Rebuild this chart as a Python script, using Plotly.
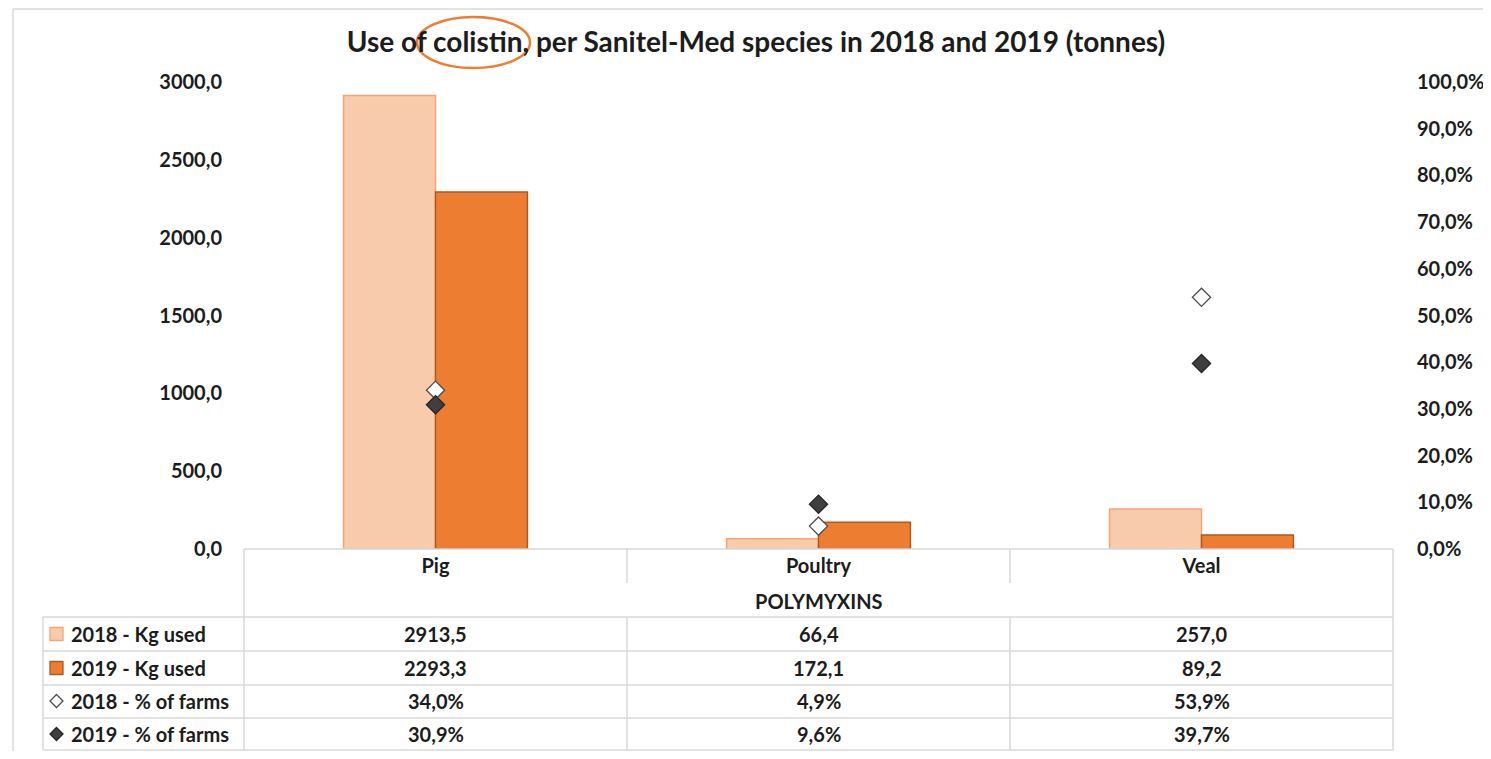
import plotly.graph_objects as go

# ---------------- data ----------------
categories = ["Pig", "Poultry", "Veal"]
group_label = "POLYMYXINS"
kg_2018 = [2913.5, 66.4, 257.0]
kg_2019 = [2293.3, 172.1, 89.2]
farms_2018 = [34.0, 4.9, 53.9]
farms_2019 = [30.9, 9.6, 39.7]
series_names = ["2018 - Kg used", "2019 - Kg used", "2018 - % of farms", "2019 - % of farms"]
left_ticks = [0, 500, 1000, 1500, 2000, 2500, 3000]
left_tick_text = ["0,0", "500,0", "1000,0", "1500,0", "2000,0", "2500,0", "3000,0"]
right_ticks = [0, 10, 20, 30, 40, 50, 60, 70, 80, 90, 100]
right_tick_text = ["0,0%", "10,0%", "20,0%", "30,0%", "40,0%", "50,0%", "60,0%",
                   "70,0%", "80,0%", "90,0%", "100,0%"]
title_text = "Use of colistin, per Sanitel-Med species in 2018 and 2019 (tonnes)"

# ---------------- style ----------------
O = 8                      # page body margin offset
W, H = 1491 - 2 * O, 759 - 2 * O
PL, PR, PT, PB = 244, 1393, 82, 549   # plot area in page pixels
L, R, T, B = PL - O, W - (PR - O), PT - O, H - (PB - O)
PW = W - L - R
PH = H - T - B
FONT = "Lato"
FS = 20
TXT = "#1c1c1c"
GRID = "#d9d9d9"
C18, C18L = "#f8cbad", "#f4a672"
C19, C19L = "#ed7d31", "#ad5a1f"
D18F, D18L = "#ffffff", "#4d4d4d"
D19F, D19L = "#3f3f3f", "#262626"


def px(xp):
    return (xp - PL) / PW


def py(yp):
    return (PB - yp) / PH


def fmt1(v):
    return f"{v:.1f}".replace(".", ",")


fig = go.Figure()
fig.add_trace(go.Bar(x=categories, y=kg_2018, name=series_names[0],
                     marker=dict(color=C18, line=dict(color=C18L, width=1.5))))
fig.add_trace(go.Bar(x=categories, y=kg_2019, name=series_names[1],
                     marker=dict(color=C19, line=dict(color=C19L, width=1.5))))
fig.add_trace(go.Scatter(x=categories, y=farms_2018, name=series_names[2], yaxis="y2",
                         mode="markers",
                         marker=dict(symbol="diamond", size=14, color=D18F,
                                     line=dict(color=D18L, width=1.3))))
fig.add_trace(go.Scatter(x=categories, y=farms_2019, name=series_names[3], yaxis="y2",
                         mode="markers",
                         marker=dict(symbol="diamond", size=14, color=D19F,
                                     line=dict(color=D19L, width=1.3))))

shapes = []
annotations = []


def hline(x0, x1, y):
    shapes.append(dict(type="line", xref="paper", yref="paper",
                       x0=px(x0), x1=px(x1), y0=py(y), y1=py(y),
                       line=dict(color=GRID, width=1.5)))


def vline(x, y0, y1):
    shapes.append(dict(type="line", xref="paper", yref="paper",
                       x0=px(x), x1=px(x), y0=py(y0), y1=py(y1),
                       line=dict(color=GRID, width=1.5)))


# outer chart border (top & left)
hline(13, 1491, 9)
vline(13, 9, 759)

# data table grid (page pixel coordinates)
row_lines = [617, 651, 685, 718, 750]
hline(244, 1393, 549)
for yl in row_lines:
    hline(43, 1393, yl)
vline(43, 617, 750)
vline(244, 549, 750)
vline(1393, 549, 750)
for xd in (627, 1010):
    vline(xd, 549, 583)
    vline(xd, 617, 750)

txt_font = dict(family=FONT, size=FS, color=TXT)

# group label row
annotations.append(dict(text=f"<b>{group_label}</b>", xref="paper", yref="paper",
                        x=0.5, y=py(601), xanchor="center", yanchor="middle",
                        showarrow=False, font=txt_font))

# table values
row_centers = [634, 668, 701, 734]
rows = [[fmt1(v) for v in kg_2018], [fmt1(v) for v in kg_2019],
        [fmt1(v) + "%" for v in farms_2018], [fmt1(v) + "%" for v in farms_2019]]
for r, yc in enumerate(row_centers):
    for c, cat in enumerate(categories):
        annotations.append(dict(text=f"<b>{rows[r][c]}</b>", xref="x", yref="paper",
                                x=cat, y=py(yc), xanchor="center", yanchor="middle",
                                showarrow=False, font=txt_font))
    annotations.append(dict(text=f"<b>{series_names[r]}</b>", xref="paper", yref="paper",
                            x=px(69), y=py(yc), xanchor="left", yanchor="middle",
                            showarrow=False, font=txt_font))

# legend keys in table
for r, (fc, lc) in enumerate([(C18, C18L), (C19, C19L)]):
    yc = row_centers[r]
    shapes.append(dict(type="rect", xref="paper", yref="paper",
                       x0=px(50), x1=px(63), y0=py(yc + 6.5), y1=py(yc - 6.5),
                       fillcolor=fc, line=dict(color=lc, width=1.3)))
for r, (fc, lc) in enumerate([(D18F, D18L), (D19F, D19L)]):
    yc = row_centers[r + 2]
    cx = 56.5
    pts = [(cx, yc - 6.5), (cx + 6.5, yc), (cx, yc + 6.5), (cx - 6.5, yc)]
    path = "M " + " L ".join(f"{px(a)},{py(b)}" for a, b in pts) + " Z"
    shapes.append(dict(type="path", xref="paper", yref="paper", path=path,
                       fillcolor=fc, line=dict(color=lc, width=1.3)))

# highlight ellipse around "colistin,"
shapes.append(dict(type="circle", xref="paper", yref="paper",
                   x0=px(417), x1=px(530), y0=py(68), y1=py(17),
                   line=dict(color="#ed7d31", width=2.5)))

fig.update_layout(
    width=W, height=H, autosize=False,
    margin=dict(l=L, r=R, t=T, b=B, pad=0, autoexpand=False),
    paper_bgcolor="white", plot_bgcolor="white",
    barmode="group", bargap=0.52, bargroupgap=0,
    showlegend=False,
    font=txt_font,
    title=dict(text=f"<b>{title_text}</b>", x=(756 - O) / W, xanchor="center",
               y=1 - (42 - O) / H, yanchor="middle", yref="container",
               automargin=False,
               font=dict(family=FONT, size=28, color=TXT)),
    xaxis=dict(type="category", range=[-0.5, 2.5], showline=False, showgrid=False,
               zeroline=False, ticks="", tickfont=txt_font, automargin=False,
               ticklabelstandoff=3,
               tickvals=categories, ticktext=[f"<b>{c}</b>" for c in categories]),
    yaxis=dict(range=[0, 3000], tickvals=left_ticks, automargin=False,
               ticktext=[f"<b>{t}</b>" for t in left_tick_text],
               showgrid=False, zeroline=False, showline=False, ticks="",
               ticklabelstandoff=21, tickfont=txt_font),
    yaxis2=dict(range=[0, 100], overlaying="y", side="right", tickvals=right_ticks,
                ticktext=[f"<b>{t}</b>" for t in right_tick_text], automargin=False,
                showgrid=False, zeroline=False, showline=False, ticks="",
                ticklabelstandoff=23, tickfont=txt_font),
    shapes=shapes, annotations=annotations,
)

fig.write_html("out.html")
